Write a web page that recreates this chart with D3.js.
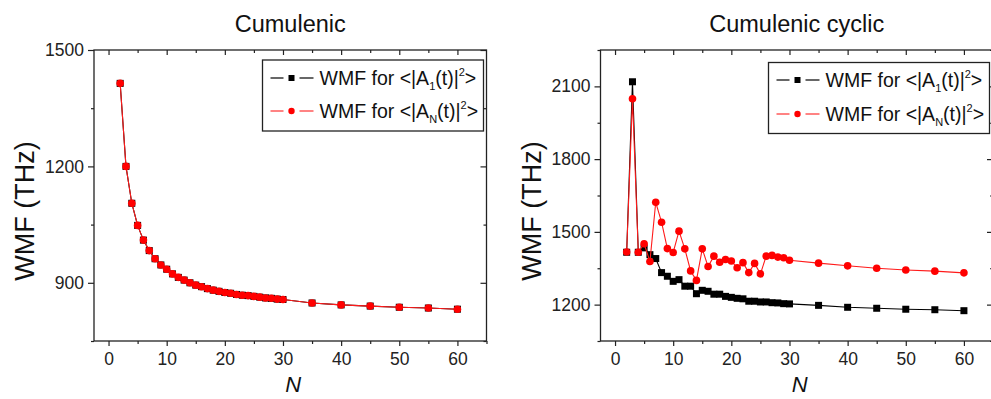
<!DOCTYPE html>
<html><head><meta charset="utf-8">
<script src="https://cdn.jsdelivr.net/npm/d3@7"></script>
<style>
html,body{margin:0;padding:0;background:#fff;}
svg{display:block;font-family:"Liberation Sans",Arial,sans-serif;}
</style></head>
<body><svg id="chart" width="991" height="399"></svg>
<script>
// ---- data ----
const nLeft = [2,3,4,5,6,7,8,9,10,11,12,13,14,15,16,17,18,19,20,21,22,23,24,25,26,27,28,29,30,35,40,45,50,55,60];
const leftA1 = [1414,1200,1105,1048,1010,983,962,946,935,923,914,907,900,894,890,885,881,878,875,873,870,868,867,865,863,861,860,858,857,848,843,840,837,835,832];
const leftAN = [1414,1200,1105,1048,1010,983,962,946,935,923,914,907,900,894,890,885,881,878,875,873,870,868,867,865,863,861,860,858,857,848,843,840,837,835,832];

const nRight = [2,3,4,5,6,7,8,9,10,11,12,13,14,15,16,17,18,19,20,21,22,23,24,25,26,27,28,29,30,35,40,45,50,55,60];
const rightA1 = [1416,2119,1416,1434,1406,1390,1332,1317,1296,1303,1276,1276,1245,1259,1255,1243,1243,1234,1230,1226,1224,1214,1214,1211,1211,1208,1207,1204,1203,1197,1189,1185,1181,1179,1175];
const rightAN = [1417,2049,1416,1451,1378,1622,1540,1431,1415,1503,1430,1339,1300,1430,1357,1400,1375,1386,1380,1352,1373,1332,1370,1327,1400,1403,1396,1393,1383,1371,1360,1350,1343,1338,1331];

const xTicks = [0,10,20,30,40,50,60];
const xMinor = [5,15,25,35,45,55,65];
const leftYTicks = [900,1200,1500];
const leftYMinor = [750,1050,1350];
const rightYTicks = [1200,1500,1800,2100];
const rightYMinor = [1050,1350,1650,1950,2250];

const titles = ["Cumulenic","Cumulenic cyclic"];

const svg = d3.select("#chart");

function panel(cfg){
  const g = svg.append("g");
  const x = d3.scaleLinear().domain([-2.5,65]).range([cfg.x0, cfg.x1]);
  const y = d3.scaleLinear().domain(cfg.yDomain).range([341,50]);
  const top = 50, bot = 341;

  // title
  g.append("text").attr("x",(cfg.x0+cfg.x1)/2).attr("y",32)
    .attr("text-anchor","middle").attr("font-size",23.5).attr("fill","#111")
    .text(cfg.title);

  // frame
  g.append("rect").attr("x",cfg.x0).attr("y",top).attr("width",cfg.x1-cfg.x0).attr("height",bot-top)
    .attr("fill","none").attr("stroke","#222").attr("stroke-width",1.3);

  // bottom axis (outward ticks) and top mirror (inward)
  const bx = d3.axisBottom(x).tickValues(xTicks).tickSize(5).tickSizeOuter(0).tickPadding(7).tickFormat(d3.format("d"));
  const ax = g.append("g").attr("transform",`translate(0,${bot})`).call(bx);
  ax.select(".domain").remove();
  ax.selectAll("text").attr("font-size",17.5).attr("fill","#222").attr("font-family","Liberation Sans, Arial, sans-serif");
  ax.selectAll("line").attr("stroke","#222").attr("stroke-width",1.2);
  const bxm = d3.axisBottom(x).tickValues(xMinor).tickSize(3).tickFormat("");
  const axm = g.append("g").attr("transform",`translate(0,${bot})`).call(bxm);
  axm.select(".domain").remove(); axm.selectAll("line").attr("stroke","#222").attr("stroke-width",1.2);

  const tx = d3.axisBottom(x).tickValues(xTicks).tickSize(5).tickFormat("");
  const axt = g.append("g").attr("transform",`translate(0,${top})`).call(tx);
  axt.select(".domain").remove(); axt.selectAll("line").attr("stroke","#222").attr("stroke-width",1.2);
  const txm = d3.axisBottom(x).tickValues(xMinor.filter(v=>v<65)).tickSize(3).tickFormat("");
  const axtm = g.append("g").attr("transform",`translate(0,${top})`).call(txm);
  axtm.select(".domain").remove(); axtm.selectAll("line").attr("stroke","#222").attr("stroke-width",1.2);

  // left axis
  const ly = d3.axisLeft(y).tickValues(cfg.yTicks).tickSize(6).tickPadding(4).tickFormat(d3.format("d"));
  const ay = g.append("g").attr("transform",`translate(${cfg.x0},0)`).call(ly);
  ay.select(".domain").remove();
  ay.selectAll("text").attr("font-size",17.5).attr("fill","#222").attr("font-family","Liberation Sans, Arial, sans-serif");
  ay.selectAll("line").attr("stroke","#222").attr("stroke-width",1.2);
  const lym = d3.axisLeft(y).tickValues(cfg.yMinor).tickSize(3).tickFormat("");
  const aym = g.append("g").attr("transform",`translate(${cfg.x0},0)`).call(lym);
  aym.select(".domain").remove(); aym.selectAll("line").attr("stroke","#222").attr("stroke-width",1.2);

  // right mirror (inward)
  const ry = d3.axisLeft(y).tickValues(cfg.yTicks).tickSize(6).tickFormat("");
  const ary = g.append("g").attr("transform",`translate(${cfg.x1},0)`).call(ry);
  ary.select(".domain").remove(); ary.selectAll("line").attr("stroke","#222").attr("stroke-width",1.2);
  const rym = d3.axisLeft(y).tickValues(cfg.yMinor).tickSize(3).tickFormat("");
  const arym = g.append("g").attr("transform",`translate(${cfg.x1},0)`).call(rym);
  arym.select(".domain").remove(); arym.selectAll("line").attr("stroke","#222").attr("stroke-width",1.2);

  // axis labels
  g.append("text").attr("transform",`translate(${cfg.x0-60},211) rotate(-90)`)
    .attr("text-anchor","middle").attr("font-size",27).attr("fill","#111")
    .text("WMF (THz)");
  g.append("text").attr("x",(cfg.x0+cfg.x1)/2+3).attr("y",392)
    .attr("text-anchor","middle").attr("font-size",22).attr("font-style","italic").attr("fill","#111")
    .text("N");

  // clip
  const clipId = "clip"+cfg.id;
  svg.append("clipPath").attr("id",clipId).append("rect")
    .attr("x",cfg.x0).attr("y",top).attr("width",cfg.x1-cfg.x0).attr("height",bot-top);
  const plot = g.append("g").attr("clip-path",`url(#${clipId})`);

  const line = d3.line().x(d=>x(d[0])).y(d=>y(d[1]));
  const dA1 = cfg.n.map((v,i)=>[v,cfg.a1[i]]);
  const dAN = cfg.n.map((v,i)=>[v,cfg.an[i]]);

  plot.append("path").attr("d",line(dA1)).attr("fill","none").attr("stroke","#000").attr("stroke-width",1.1);
  plot.selectAll(".sq").data(dA1).enter().append("rect")
    .attr("x",d=>x(d[0])-3.5).attr("y",d=>y(d[1])-3.5).attr("width",7).attr("height",7).attr("fill","#000");
  plot.append("path").attr("d",line(dAN)).attr("fill","none").attr("stroke","#ff1a1a").attr("stroke-width",1.1);
  plot.selectAll(".ci").data(dAN).enter().append("circle")
    .attr("cx",d=>x(d[0])).attr("cy",d=>y(d[1])).attr("r",3.8).attr("fill","#ff0000");

  // legend
  const L = cfg.legend;
  g.append("rect").attr("x",L.x).attr("y",L.y).attr("width",L.w).attr("height",L.h)
    .attr("fill","#fff").attr("stroke","#222").attr("stroke-width",1.3);
  const rows = [{c:"#000",sub:"1",shape:"sq",lc:"#000"},{c:"#ff0000",sub:"N",shape:"ci",lc:"#ff3030"}];
  rows.forEach((r,i)=>{
    const cy = L.r[i];
    const sx = L.x+8;
    g.append("line").attr("x1",sx).attr("x2",sx+13).attr("y1",cy).attr("y2",cy).attr("stroke",r.lc).attr("stroke-width",1.2);
    g.append("line").attr("x1",sx+29).attr("x2",sx+43).attr("y1",cy).attr("y2",cy).attr("stroke",r.lc).attr("stroke-width",1.2);
    if(r.shape==="sq") g.append("rect").attr("x",sx+21-3).attr("y",cy-3).attr("width",6).attr("height",6).attr("fill",r.c);
    else g.append("circle").attr("cx",sx+21).attr("cy",cy).attr("r",3.2).attr("fill",r.c);
    const t = g.append("text").attr("x",sx+49).attr("y",cy+7).attr("font-size",19.5).attr("fill","#111");
    t.append("tspan").text("WMF for <|A");
    t.append("tspan").attr("font-size",11).attr("dy",5).text(r.sub);
    t.append("tspan").attr("dy",-5).text("(t)|");
    t.append("tspan").attr("font-size",11).attr("dy",-9).text("2");
    t.append("tspan").attr("dy",9).text(">");
  });
}

panel({id:"L", x0:94, x1:486.5, yDomain:[750,1500], yTicks:leftYTicks, yMinor:leftYMinor,
  title:titles[0], n:nLeft, a1:leftA1, an:leftAN,
  legend:{x:262.5,y:60,w:221,h:71,r:[78,111]}});
panel({id:"R", x0:600.5, x1:993, yDomain:[1050,2250], yTicks:rightYTicks, yMinor:rightYMinor,
  title:titles[1], n:nRight, a1:rightA1, an:rightAN,
  legend:{x:768.5,y:62.5,w:221,h:71,r:[80,114]}});
</script>
</body></html>
